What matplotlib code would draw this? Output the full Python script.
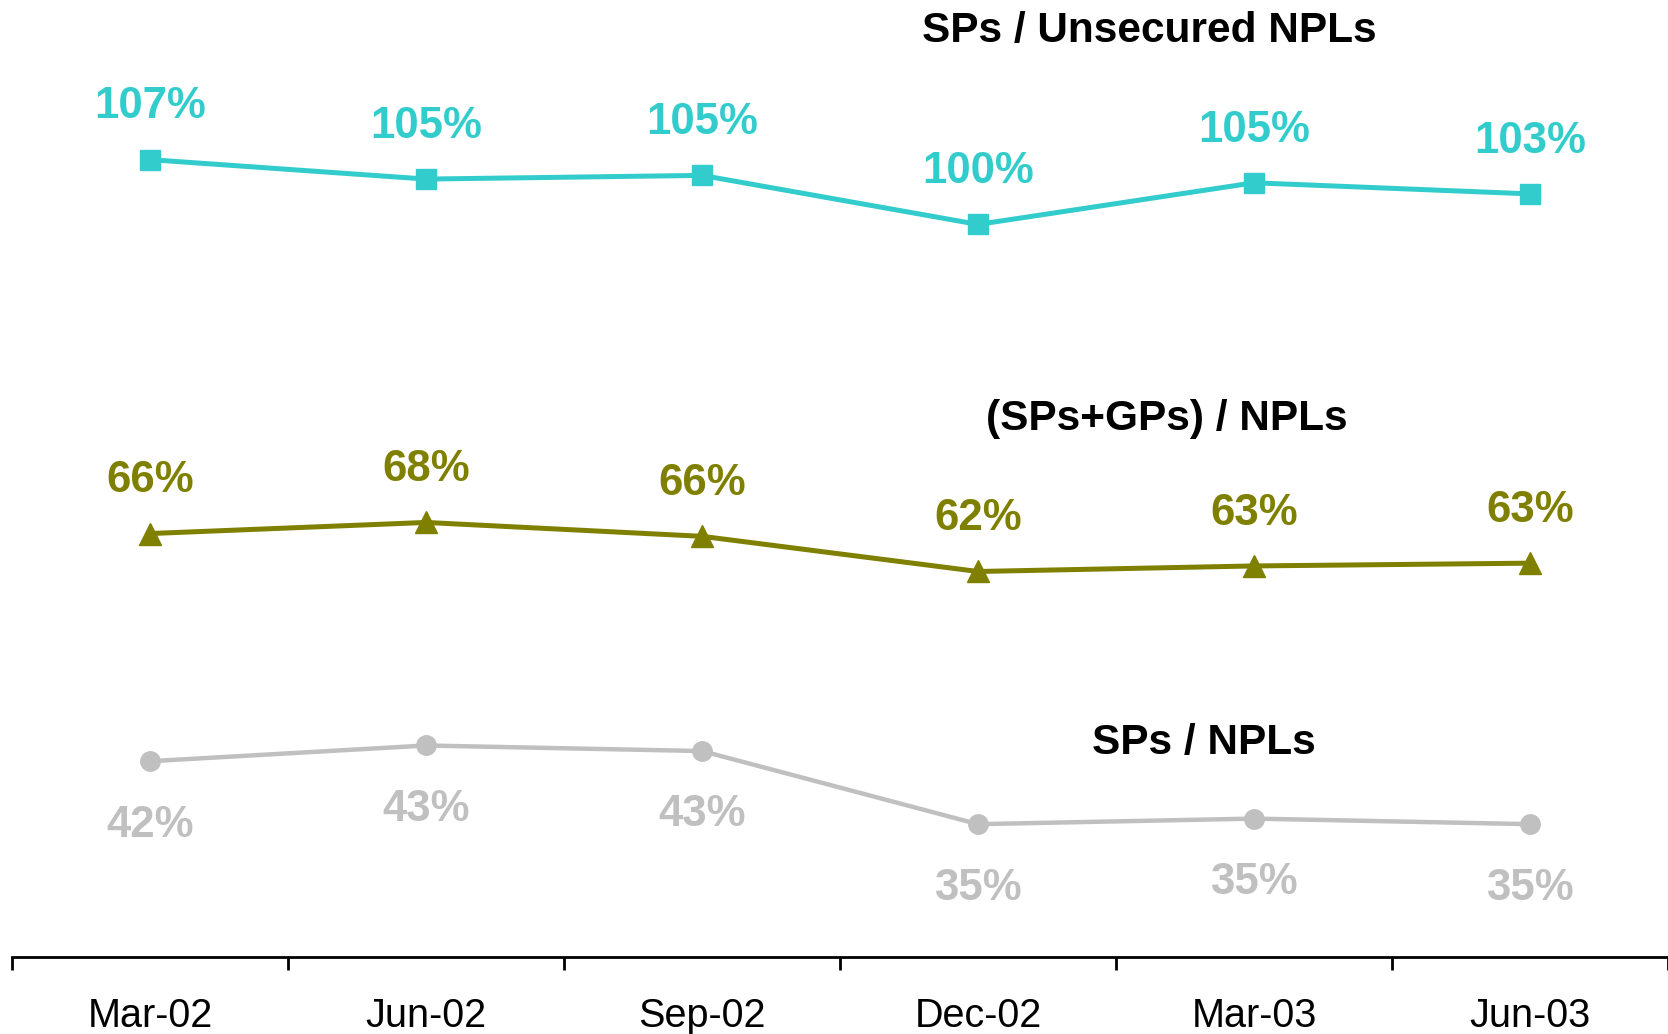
import matplotlib.pyplot as plt

quarters = ["Mar-02", "Jun-02", "Sep-02", "Dec-02", "Mar-03", "Jun-03"]
unsecured = [107.0, 104.9, 105.3, 100.0, 104.5, 103.3]
sps_gps = [66.6, 67.8, 66.3, 62.5, 63.1, 63.4]
sps = [42.0, 43.7, 43.1, 35.2, 35.8, 35.2]
unsecured_lbl = ["107%", "105%", "105%", "100%", "105%", "103%"]
sps_gps_lbl = ["66%", "68%", "66%", "62%", "63%", "63%"]
sps_lbl = ["42%", "43%", "43%", "35%", "35%", "35%"]

cyan = "#33CCCC"
olive = "#808000"
grey = "#C0C0C0"

plt.rcParams['font.family'] = ['Liberation Sans', 'DejaVu Sans']

fig = plt.figure(figsize=(16.68, 10.34), dpi=100)
ax = fig.add_axes([0.0072, 0.0745, 0.9928, 0.9255])
x = range(len(quarters))

ax.plot(x, unsecured, color=cyan, lw=3.6, marker='s', markersize=15)
ax.plot(x, sps_gps, color=olive, lw=3.6, marker='^', markersize=16)
ax.plot(x, sps, color=grey, lw=3.2, marker='o', markersize=14)

# data labels
for i in x:
    ax.annotate(unsecured_lbl[i], (i, unsecured[i]), xytext=(0, 38), textcoords='offset points',
                ha='center', va='center', color=cyan, fontsize=31.5, fontweight='bold')
    ax.annotate(sps_gps_lbl[i], (i, sps_gps[i]), xytext=(0, 38), textcoords='offset points',
                ha='center', va='center', color=olive, fontsize=31.5, fontweight='bold')
    ax.annotate(sps_lbl[i], (i, sps[i]), xytext=(0, -46), textcoords='offset points',
                ha='center', va='center', color=grey, fontsize=31.5, fontweight='bold')

# series names
ax.text(3.62, 120.9, "SPs / Unsecured NPLs", ha='center', va='center', fontsize=30.5, fontweight='bold')
ax.text(3.685, 79.0, "(SPs+GPs) / NPLs", ha='center', va='center', fontsize=30.5, fontweight='bold')
ax.text(3.82, 44.0, "SPs / NPLs", ha='center', va='center', fontsize=30.5, fontweight='bold')

ax.set_xlim(-0.5, 5.5)
ax.set_ylim(20.85, 124.25)
ax.set_xticks(list(x))
ax.set_xticklabels(quarters, fontsize=28.5)
ax.set_xticks([i - 0.5 for i in range(len(quarters) + 1)], minor=True)
ax.tick_params(axis='x', which='major', length=0, pad=29)
ax.tick_params(axis='x', which='minor', length=9.5, width=2, direction='out')
ax.set_yticks([])
for s in ['top', 'right', 'left']:
    ax.spines[s].set_visible(False)
ax.spines['bottom'].set_linewidth(2)

fig.savefig("out.png", dpi=100)
